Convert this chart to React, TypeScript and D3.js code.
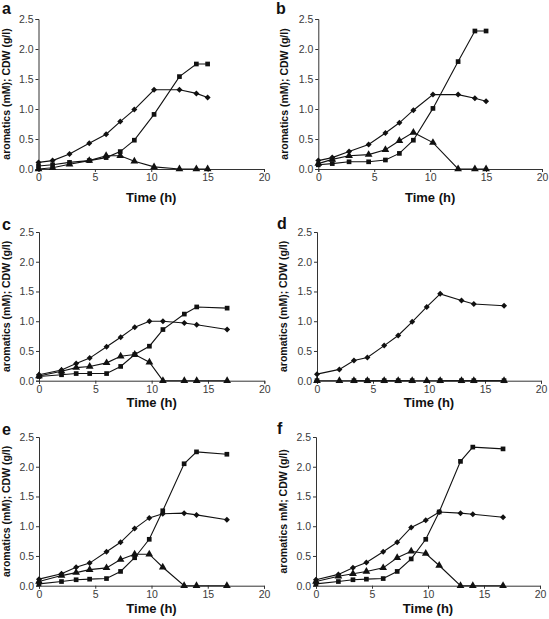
import React, { useEffect, useRef } from 'react';
import * as d3 from 'd3';

// sampling times (h)
const timesAB = [0, 1.25, 2.75, 4.5, 6, 7.25, 8.5, 10.25, 12.5, 14, 15];
const timesCF = [0, 2, 3.3, 4.5, 6, 7.25, 8.5, 9.8, 11, 12.9, 14, 16.7];

// CDW (diamonds), aromatics (squares), intermediate (triangles)
const aDiamond = [0.11, 0.14, 0.25, 0.43, 0.58, 0.79, 0.99, 1.32, 1.32, 1.26, 1.19];
const aSquare = [0.05, 0.07, 0.11, 0.14, 0.19, 0.29, 0.48, 0.91, 1.54, 1.75, 1.75];
const aTriangle = [0, 0.02, 0.08, 0.14, 0.22, 0.22, 0.13, 0.035, 0, 0, 0];

const bDiamond = [0.14, 0.19, 0.29, 0.41, 0.6, 0.77, 0.98, 1.24, 1.24, 1.18, 1.13];
const bSquare = [0.07, 0.09, 0.12, 0.12, 0.15, 0.26, 0.48, 1.01, 1.79, 2.3, 2.3];
const bTriangle = [0.09, 0.16, 0.22, 0.24, 0.32, 0.47, 0.61, 0.44, 0, 0, 0];

const cDiamond = [0.1, 0.18, 0.29, 0.38, 0.57, 0.73, 0.9, 1.0, 1.0, 0.97, 0.94, 0.86];
const cSquare = [0.07, 0.1, 0.12, 0.12, 0.12, 0.24, 0.44, 0.58, 0.86, 1.12, 1.24, 1.22];
const cTriangle = [0.08, 0.16, 0.22, 0.24, 0.3, 0.41, 0.44, 0.31, 0, 0, 0, 0];

const dDiamond = [0.11, 0.19, 0.34, 0.39, 0.59, 0.76, 0.99, 1.24, 1.46, 1.35, 1.29, 1.26];
const dSquare = [0, null, 0, 0, 0, 0, 0, null, 0, 0, 0, 0];
const dTriangle = [0, 0, 0, 0, 0, 0, 0, 0, 0, 0, 0, 0];

const eDiamond = [0.11, 0.2, 0.31, 0.38, 0.57, 0.73, 0.96, 1.14, 1.21, 1.22, 1.19, 1.11];
const eSquare = [0.03, 0.07, 0.1, 0.11, 0.12, 0.24, 0.47, 0.78, 1.26, 2.05, 2.25, 2.21];
const eTriangle = [0.07, 0.17, 0.22, 0.27, 0.3, 0.44, 0.53, 0.53, 0.31, 0, 0, 0];

const fDiamond = [0.1, 0.19, 0.3, 0.39, 0.57, 0.73, 0.98, 1.1, 1.24, 1.22, 1.2, 1.15];
const fSquare = [0.03, 0.07, 0.1, 0.11, 0.12, 0.24, 0.45, 0.78, 1.24, 2.09, 2.33, 2.3];
const fTriangle = [0.07, 0.16, 0.2, 0.24, 0.3, 0.47, 0.58, 0.54, 0.34, 0, 0, 0];

const xTicks = [0, 5, 10, 15, 20];
const yTicks = [0, 0.5, 1.0, 1.5, 2.0, 2.5];

const yTitle = 'aromatics (mM); CDW (g/l)';
const yTitleF = 'aromatics mM; CDW (g/l)';

const panels = [
  { letter: 'a', times: timesAB, diamond: aDiamond, square: aSquare, triangle: aTriangle, title: yTitle,
    x0: 38.5, x1: 264, top: 19, bottom: 169, lx: 2, ly: 14, tx: 9.5, timeY: 202 },
  { letter: 'b', times: timesAB, diamond: bDiamond, square: bSquare, triangle: bTriangle, title: yTitle,
    x0: 318.3, x1: 542, top: 19, bottom: 169, lx: 276, ly: 14, tx: 288, timeY: 202 },
  { letter: 'c', times: timesCF, diamond: cDiamond, square: cSquare, triangle: cTriangle, title: yTitle,
    x0: 39, x1: 264.3, top: 232, bottom: 380.7, lx: 2, ly: 230, tx: 9.5, timeY: 407 },
  { letter: 'd', times: timesCF, diamond: dDiamond, square: dSquare, triangle: dTriangle, title: yTitle,
    x0: 317, x1: 541, top: 232, bottom: 380.7, lx: 277, ly: 229, tx: 286.5, timeY: 407 },
  { letter: 'e', times: timesCF, diamond: eDiamond, square: eSquare, triangle: eTriangle, title: yTitle,
    x0: 39, x1: 264, top: 437, bottom: 585.7, lx: 2, ly: 435, tx: 9.5, timeY: 613 },
  { letter: 'f', times: timesCF, diamond: fDiamond, square: fSquare, triangle: fTriangle, title: yTitleF,
    x0: 316, x1: 540, top: 437, bottom: 585.7, lx: 277, ly: 434, tx: 286.5, timeY: 613 },
];

const FONT = "Arial, 'Liberation Sans', Helvetica, sans-serif";
const INK = '#111';

const App = () => {
  const svgRef = useRef(null);

  useEffect(() => {
    const svg = d3.select(svgRef.current);
    svg.selectAll('*').remove();

    panels.forEach(p => {
      const x = d3.scaleLinear().domain([0, 20]).range([p.x0, p.x1]);
      const y = d3.scaleLinear().domain([0, 2.5]).range([p.bottom, p.top]);
      const g = svg.append('g');

      const xAxis = g.append('g')
        .attr('transform', `translate(0,${p.bottom})`)
        .call(d3.axisBottom(x).tickValues(xTicks).tickSize(3).tickPadding(2).tickFormat(d3.format('d')));
      const yAxis = g.append('g')
        .attr('transform', `translate(${p.x0},0)`)
        .call(d3.axisLeft(y).tickValues(yTicks).tickSize(3).tickPadding(2).tickFormat(d3.format('.1f')));

      [xAxis, yAxis].forEach(ax => {
        ax.select('.domain').attr('stroke', '#333').attr('stroke-width', 1);
        ax.selectAll('.tick line').attr('stroke', '#333');
        ax.selectAll('.tick text')
          .attr('fill', '#3a3a3a')
          .style('font-family', FONT)
          .style('font-size', '10.5px');
      });

      // panel letter
      g.append('text')
        .attr('x', p.lx)
        .attr('y', p.ly)
        .text(p.letter)
        .style('font-family', FONT)
        .style('font-weight', 'bold')
        .style('font-size', '16px')
        .attr('fill', INK);

      // axis titles
      g.append('text')
        .attr('transform', `translate(${p.tx},${(p.top + p.bottom) / 2}) rotate(-90)`)
        .attr('text-anchor', 'middle')
        .text(p.title)
        .style('font-family', FONT)
        .style('font-weight', 'bold')
        .style('font-size', '10.5px')
        .attr('fill', INK);

      g.append('text')
        .attr('x', (p.x0 + p.x1) / 2)
        .attr('y', p.timeY)
        .attr('text-anchor', 'middle')
        .text('Time (h)')
        .style('font-family', FONT)
        .style('font-weight', 'bold')
        .style('font-size', '13px')
        .attr('fill', INK);

      const series = [
        { values: p.triangle, symbol: d3.symbolTriangle, size: 26, rotate: 0 },
        { values: p.square, symbol: d3.symbolSquare, size: 22, rotate: 0 },
        { values: p.diamond, symbol: d3.symbolSquare, size: 18, rotate: 45 },
      ];

      series.forEach(s => {
        const pts = p.times.map((t, i) => ({ t, v: s.values[i] }));
        const line = d3.line()
          .defined(d => d.v != null)
          .x(d => x(d.t))
          .y(d => y(d.v));

        g.append('path')
          .datum(pts)
          .attr('d', line)
          .attr('fill', 'none')
          .attr('stroke', INK)
          .attr('stroke-width', 1.1);

        g.selectAll(null)
          .data(pts.filter(d => d.v != null))
          .enter()
          .append('path')
          .attr('d', d3.symbol().type(s.symbol).size(s.size))
          .attr('transform', d => `translate(${x(d.t)},${y(d.v)}) rotate(${s.rotate})`)
          .attr('fill', INK);
      });
    });
  }, []);

  return (
    <svg ref={svgRef} width={549} height={619}
      style={{ position: 'absolute', left: 0, top: 0, background: '#fff' }} />
  );
};

export default App;
